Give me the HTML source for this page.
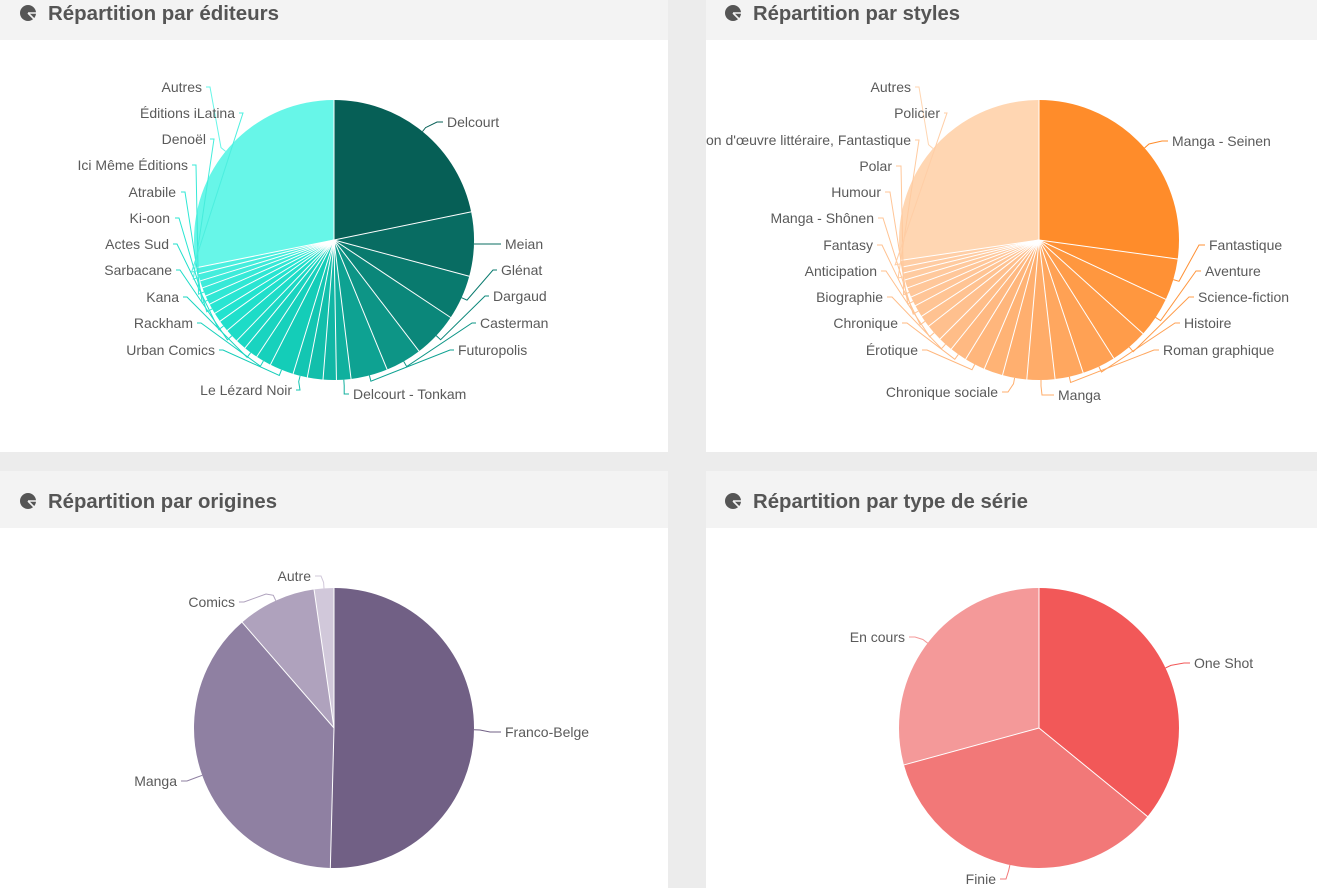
<!DOCTYPE html>
<html><head><meta charset="utf-8">
<style>
html,body{margin:0;padding:0;}
body{width:1317px;height:888px;background:#ececec;position:relative;overflow:hidden;font-family:"Liberation Sans",sans-serif;}
.p{position:absolute;background:#fff;}
.h{position:absolute;left:0;right:0;top:0;background:#f3f3f3;}
svg{position:absolute;left:0;top:0;}
</style></head>
<body>
<div class="p" style="left:0;top:0;width:668px;height:452px;"><div class="h" style="height:40px;"></div></div>
<div class="p" style="left:706px;top:0;width:611px;height:452px;"><div class="h" style="height:40px;"></div></div>
<div class="p" style="left:0;top:471px;width:668px;height:417px;"><div class="h" style="height:57px;"></div></div>
<div class="p" style="left:706px;top:471px;width:611px;height:417px;"><div class="h" style="height:57px;"></div></div>

<svg width="1317" height="888" viewBox="0 0 1317 888" xmlns="http://www.w3.org/2000/svg">
<defs>
<clipPath id="cr"><rect x="706" y="0" width="611" height="888"/></clipPath>
</defs>

<!-- icons -->
<g fill="#555">
<g transform="translate(28,13)"><circle r="8"/><path d="M0,0 L9,0 M0,0 L6.5,6.5" stroke="#f3f3f3" stroke-width="1.6"/></g>
<g transform="translate(733,13)"><circle r="8"/><path d="M0,0 L9,0 M0,0 L6.5,6.5" stroke="#f3f3f3" stroke-width="1.6"/></g>
<g transform="translate(28,501)"><circle r="8"/><path d="M0,0 L9,0 M0,0 L6.5,6.5" stroke="#f3f3f3" stroke-width="1.6"/></g>
<g transform="translate(733,501)"><circle r="8"/><path d="M0,0 L9,0 M0,0 L6.5,6.5" stroke="#f3f3f3" stroke-width="1.6"/></g>
</g>
<g font-family="Liberation Sans, sans-serif" font-weight="bold" font-size="20" fill="#555">
<text x="48" y="20" textLength="231" lengthAdjust="spacingAndGlyphs">Répartition par éditeurs</text>
<text x="753" y="20" textLength="207" lengthAdjust="spacingAndGlyphs">Répartition par styles</text>
<text x="48" y="508" textLength="229" lengthAdjust="spacingAndGlyphs">Répartition par origines</text>
<text x="753" y="508" textLength="275" lengthAdjust="spacingAndGlyphs">Répartition par type de série</text>
</g>

<!-- PIE 1 -->
<g transform="translate(334,240)" fill="none" stroke-width="140">
<circle r="70" pathLength="360" stroke="#065f56" stroke-dasharray="78.8 720" transform="rotate(-90)"/>
<circle r="70" pathLength="360" stroke="#086c62" stroke-dasharray="27 720" transform="rotate(-11.6)"/>
<circle r="70" pathLength="360" stroke="#097a6e" stroke-dasharray="19 720" transform="rotate(15)"/>
<circle r="70" pathLength="360" stroke="#0b877a" stroke-dasharray="19.4 720" transform="rotate(33.6)"/>
<circle r="70" pathLength="360" stroke="#0d9586" stroke-dasharray="15.5 720" transform="rotate(52.6)"/>
<circle r="70" pathLength="360" stroke="#0ea292" stroke-dasharray="15.7 720" transform="rotate(67.7)"/>
<circle r="70" pathLength="360" stroke="#10b09e" stroke-dasharray="6.4 720" transform="rotate(83)"/>
<circle r="70" pathLength="360" stroke="#11b7a5" stroke-dasharray="5.9 720" transform="rotate(89)"/>
<circle r="70" pathLength="360" stroke="#12bfab" stroke-dasharray="6.9 720" transform="rotate(94.5)"/>
<circle r="70" pathLength="360" stroke="#13c6b2" stroke-dasharray="6.4 720" transform="rotate(101)"/>
<circle r="70" pathLength="360" stroke="#14cdb8" stroke-dasharray="10.4 720" transform="rotate(107)"/>
<circle r="70" pathLength="360" stroke="#16d1bc" stroke-dasharray="6.9 720" transform="rotate(117)"/>
<circle r="70" pathLength="360" stroke="#19d4c0" stroke-dasharray="6.4 720" transform="rotate(123.5)"/>
<circle r="70" pathLength="360" stroke="#1bd8c4" stroke-dasharray="4.9 720" transform="rotate(129.5)"/>
<circle r="70" pathLength="360" stroke="#1ddcc7" stroke-dasharray="6.1 720" transform="rotate(134)"/>
<circle r="70" pathLength="360" stroke="#20dfcb" stroke-dasharray="5.2 720" transform="rotate(139.7)"/>
<circle r="70" pathLength="360" stroke="#22e3cf" stroke-dasharray="4.3 720" transform="rotate(144.5)"/>
<circle r="70" pathLength="360" stroke="#29e5d2" stroke-dasharray="4.7 720" transform="rotate(148.4)"/>
<circle r="70" pathLength="360" stroke="#30e7d4" stroke-dasharray="4.1 720" transform="rotate(152.7)"/>
<circle r="70" pathLength="360" stroke="#37e9d7" stroke-dasharray="4 720" transform="rotate(156.4)"/>
<circle r="70" pathLength="360" stroke="#3eebda" stroke-dasharray="3.4 720" transform="rotate(160)"/>
<circle r="70" pathLength="360" stroke="#45eddc" stroke-dasharray="3.4 720" transform="rotate(163)"/>
<circle r="70" pathLength="360" stroke="#4cefdf" stroke-dasharray="3 720" transform="rotate(166)"/>
<circle r="70" pathLength="360" stroke="#67f6e8" stroke-dasharray="101.4 720" transform="rotate(168.6)"/>
<g stroke="#fff" stroke-width="1">
<line x2="0" y2="-140.5" transform="rotate(0)"/>
<line x2="0" y2="-140.5" transform="rotate(78.4)"/>
<line x2="0" y2="-140.5" transform="rotate(105)"/>
<line x2="0" y2="-140.5" transform="rotate(123.6)"/>
<line x2="0" y2="-140.5" transform="rotate(142.6)"/>
<line x2="0" y2="-140.5" transform="rotate(157.7)"/>
<line x2="0" y2="-140.5" transform="rotate(173)"/>
<line x2="0" y2="-140.5" transform="rotate(179)"/>
<line x2="0" y2="-140.5" transform="rotate(184.5)"/>
<line x2="0" y2="-140.5" transform="rotate(191)"/>
<line x2="0" y2="-140.5" transform="rotate(197)"/>
<line x2="0" y2="-140.5" transform="rotate(207)"/>
<line x2="0" y2="-140.5" transform="rotate(213.5)"/>
<line x2="0" y2="-140.5" transform="rotate(219.5)"/>
<line x2="0" y2="-140.5" transform="rotate(224)"/>
<line x2="0" y2="-140.5" transform="rotate(229.7)"/>
<line x2="0" y2="-140.5" transform="rotate(234.5)"/>
<line x2="0" y2="-140.5" transform="rotate(238.4)"/>
<line x2="0" y2="-140.5" transform="rotate(242.7)"/>
<line x2="0" y2="-140.5" transform="rotate(246.4)"/>
<line x2="0" y2="-140.5" transform="rotate(250)"/>
<line x2="0" y2="-140.5" transform="rotate(253)"/>
<line x2="0" y2="-140.5" transform="rotate(256)"/>
<line x2="0" y2="-140.5" transform="rotate(258.6)"/>
</g>
</g>
<g fill="none" stroke-width="1">
<path stroke="#065f56" d="M443,122 L437,122 L425.6,127.6 L422.5,131.5"/>
<path stroke="#086c62" d="M501,244 L480,244 L474,244"/>
<path stroke="#097a6e" d="M497,270 L493,270 L467,300.1 L461.5,297.7"/>
<path stroke="#0b877a" d="M489,296 L485,296 L440.6,339.7 L436.2,335.6"/>
<path stroke="#0d9586" d="M476,323 L472,323 L406.7,366.6 L403.7,361.4"/>
<path stroke="#0ea292" d="M454,350 L450,350 L370.9,381.2 L369.4,375.4"/>
<path stroke="#10b09e" d="M349,394 L344.2,394 L344.2,385.7 L343.8,379.7"/>
<path stroke="#13c6b2" d="M296,390 L300,390 L298.7,381.6 L300.1,375.8"/>
<path stroke="#14cdb8" d="M219,350 L223,350 L279.3,375.4 L281.5,369.8"/>
<path stroke="#16d1bc" d="M197,323 L201,323 L260.4,366.2 L263.4,361"/>
<path stroke="#19d4c0" d="M183,297 L187,297 L247.1,357.4 L250.7,352.6"/>
<path stroke="#1ddcc7" d="M176,270 L180,270 L227.4,339.9 L231.8,335.8"/>
<path stroke="#20dfcb" d="M173,244 L177,244 L218.8,329.6 L223.5,326"/>
<path stroke="#29e5d2" d="M175,218 L179,218 L206.8,311.8 L212.1,308.9"/>
<path stroke="#30e7d4" d="M181,192 L185,192 L202.2,302.8 L207.6,300.2"/>
<path stroke="#37e9d7" d="M192,165 L196,165 L198.5,294.2 L204,292"/>
<path stroke="#45eddc" d="M210,139 L214,139 L193.3,279 L199,277.4"/>
<path stroke="#4cefdf" d="M239,113 L243,113 L191.6,272.1 L197.4,270.8"/>
<path stroke="#67f6e8" d="M206,87 L210,87 L221,147.6 L225.6,151.4"/>
</g>
<g font-family="Liberation Sans, sans-serif" font-size="14" fill="#5a5a5a">
<text x="447" y="127">Delcourt</text>
<text x="505" y="249">Meian</text>
<text x="501" y="275">Glénat</text>
<text x="493" y="301">Dargaud</text>
<text x="480" y="328">Casterman</text>
<text x="458" y="355">Futuropolis</text>
<text x="353" y="399">Delcourt - Tonkam</text>
<g text-anchor="end">
<text x="292" y="395">Le Lézard Noir</text>
<text x="215" y="355">Urban Comics</text>
<text x="193" y="328">Rackham</text>
<text x="179" y="302">Kana</text>
<text x="172" y="275">Sarbacane</text>
<text x="169" y="249">Actes Sud</text>
<text x="170" y="223">Ki-oon</text>
<text x="176" y="197">Atrabile</text>
<text x="188" y="170">Ici Même Éditions</text>
<text x="206" y="144">Denoël</text>
<text x="235" y="118">Éditions iLatina</text>
<text x="202" y="92">Autres</text>
</g>
</g>

<!-- PIE 2 -->
<g transform="translate(1039,240)" fill="none" stroke-width="140">
<circle r="70" pathLength="360" stroke="#ff8c2a" stroke-dasharray="98.2 720" transform="rotate(-90)"/>
<circle r="70" pathLength="360" stroke="#ff9135" stroke-dasharray="17.7 720" transform="rotate(7.8)"/>
<circle r="70" pathLength="360" stroke="#ff973f" stroke-dasharray="17.3 720" transform="rotate(25.1)"/>
<circle r="70" pathLength="360" stroke="#ff9c4a" stroke-dasharray="16.1 720" transform="rotate(42)"/>
<circle r="70" pathLength="360" stroke="#ffa154" stroke-dasharray="14.3 720" transform="rotate(57.7)"/>
<circle r="70" pathLength="360" stroke="#ffa75f" stroke-dasharray="12.2 720" transform="rotate(71.6)"/>
<circle r="70" pathLength="360" stroke="#ffac69" stroke-dasharray="12 720" transform="rotate(83.4)"/>
<circle r="70" pathLength="360" stroke="#ffaf6f" stroke-dasharray="10.5 720" transform="rotate(95)"/>
<circle r="70" pathLength="360" stroke="#ffb375" stroke-dasharray="8.3 720" transform="rotate(105.1)"/>
<circle r="70" pathLength="360" stroke="#ffb67c" stroke-dasharray="9 720" transform="rotate(113)"/>
<circle r="70" pathLength="360" stroke="#ffb982" stroke-dasharray="7.6 720" transform="rotate(121.6)"/>
<circle r="70" pathLength="360" stroke="#ffbd88" stroke-dasharray="6.6 720" transform="rotate(128.8)"/>
<circle r="70" pathLength="360" stroke="#ffc08e" stroke-dasharray="7.4 720" transform="rotate(135)"/>
<circle r="70" pathLength="360" stroke="#ffc291" stroke-dasharray="5.4 720" transform="rotate(142)"/>
<circle r="70" pathLength="360" stroke="#ffc494" stroke-dasharray="5.4 720" transform="rotate(147)"/>
<circle r="70" pathLength="360" stroke="#ffc597" stroke-dasharray="4.4 720" transform="rotate(152)"/>
<circle r="70" pathLength="360" stroke="#ffc79a" stroke-dasharray="4.4 720" transform="rotate(156)"/>
<circle r="70" pathLength="360" stroke="#ffc99d" stroke-dasharray="3.8 720" transform="rotate(160)"/>
<circle r="70" pathLength="360" stroke="#ffcba0" stroke-dasharray="3.3 720" transform="rotate(163.4)"/>
<circle r="70" pathLength="360" stroke="#ffcca3" stroke-dasharray="2.9 720" transform="rotate(166.3)"/>
<circle r="70" pathLength="360" stroke="#ffcea6" stroke-dasharray="3.2 720" transform="rotate(168.8)"/>
<circle r="70" pathLength="360" stroke="#ffd6b2" stroke-dasharray="98.4 720" transform="rotate(171.6)"/>
<g stroke="#fff" stroke-width="1">
<line x2="0" y2="-140.5" transform="rotate(0)"/>
<line x2="0" y2="-140.5" transform="rotate(97.8)"/>
<line x2="0" y2="-140.5" transform="rotate(115.1)"/>
<line x2="0" y2="-140.5" transform="rotate(132)"/>
<line x2="0" y2="-140.5" transform="rotate(147.7)"/>
<line x2="0" y2="-140.5" transform="rotate(161.6)"/>
<line x2="0" y2="-140.5" transform="rotate(173.4)"/>
<line x2="0" y2="-140.5" transform="rotate(185)"/>
<line x2="0" y2="-140.5" transform="rotate(195.1)"/>
<line x2="0" y2="-140.5" transform="rotate(203)"/>
<line x2="0" y2="-140.5" transform="rotate(211.6)"/>
<line x2="0" y2="-140.5" transform="rotate(218.8)"/>
<line x2="0" y2="-140.5" transform="rotate(225)"/>
<line x2="0" y2="-140.5" transform="rotate(232)"/>
<line x2="0" y2="-140.5" transform="rotate(237)"/>
<line x2="0" y2="-140.5" transform="rotate(242)"/>
<line x2="0" y2="-140.5" transform="rotate(246)"/>
<line x2="0" y2="-140.5" transform="rotate(250)"/>
<line x2="0" y2="-140.5" transform="rotate(253.4)"/>
<line x2="0" y2="-140.5" transform="rotate(256.3)"/>
<line x2="0" y2="-140.5" transform="rotate(258.8)"/>
<line x2="0" y2="-140.5" transform="rotate(261.6)"/>
</g>
</g>
<g fill="none" stroke-width="1" clip-path="url(#cr)">
<path stroke="#ff8c2a" d="M1168,141 L1162,141 L1149,144 L1144.5,148"/>
<path stroke="#ff9135" d="M1205,245 L1199,245 L1179,281.3 L1173.3,279.6"/>
<path stroke="#ff973f" d="M1201,271 L1196,271 L1160.6,320.7 L1155.6,317.4"/>
<path stroke="#ff9c4a" d="M1194,297 L1189,297 L1133.2,351.7 L1129.3,347.1"/>
<path stroke="#ffa154" d="M1180,323 L1175,323 L1101.5,372 L1098.9,366.6"/>
<path stroke="#ffa75f" d="M1159,350 L1154,350 L1070.6,382.5 L1069.3,376.6"/>
<path stroke="#ffac69" d="M1054,395 L1042,395 L1041,386 L1041,380"/>
<path stroke="#ffaf6f" d="M1002,392 L1008,392 L1013.5,383.8 L1014.6,377.9"/>
<path stroke="#ffb67c" d="M922,350 L927,350 L972,369.7 L974.8,364.4"/>
<path stroke="#ffb982" d="M902,323 L907,323 L954.8,359.3 L958.3,354.4"/>
<path stroke="#ffbd88" d="M887,297 L892,297 L941.5,348.7 L945.5,344.2"/>
<path stroke="#ffc08e" d="M881,271 L886,271 L929.6,336.7 L934.1,332.8"/>
<path stroke="#ffc291" d="M877,245 L882,245 L920.2,324.8 L925,321.3"/>
<path stroke="#ffc494" d="M878,218 L883,218 L913.2,314.1 L918.4,311"/>
<path stroke="#ffc597" d="M885,192 L890,192 L907.8,304 L913.2,301.4"/>
<path stroke="#ffc79a" d="M896,166 L901,166 L903.6,294.7 L909.2,292.4"/>
<path stroke="#ffcba0" d="M915,140 L919,140 L898.1,278.1 L903.9,276.6"/>
<path stroke="#ffcea6" d="M944,113 L947,113 L895.1,264.9 L901,263.8"/>
<path stroke="#ffd6b2" d="M915,87 L919,87 L928.5,144.6 L933,148.5"/>
</g>
<g font-family="Liberation Sans, sans-serif" font-size="14" fill="#5a5a5a" clip-path="url(#cr)">
<text x="1172" y="146">Manga - Seinen</text>
<text x="1209" y="250">Fantastique</text>
<text x="1205" y="276">Aventure</text>
<text x="1198" y="302">Science-fiction</text>
<text x="1184" y="328">Histoire</text>
<text x="1163" y="355">Roman graphique</text>
<text x="1058" y="400">Manga</text>
<g text-anchor="end">
<text x="998" y="397">Chronique sociale</text>
<text x="918" y="355">Érotique</text>
<text x="898" y="328">Chronique</text>
<text x="883" y="302">Biographie</text>
<text x="877" y="276">Anticipation</text>
<text x="873" y="250">Fantasy</text>
<text x="874" y="223">Manga - Shônen</text>
<text x="881" y="197">Humour</text>
<text x="892" y="171">Polar</text>
<text x="911" y="145">Adaptation d'œuvre littéraire, Fantastique</text>
<text x="940" y="118">Policier</text>
<text x="911" y="92">Autres</text>
</g>
</g>

<!-- PIE 3 -->
<g transform="translate(334,728)" fill="none" stroke-width="140">
<circle r="70" pathLength="360" stroke="#716085" stroke-dasharray="181.9 720" transform="rotate(-90)"/>
<circle r="70" pathLength="360" stroke="#8f80a2" stroke-dasharray="137.9 720" transform="rotate(91.5)"/>
<circle r="70" pathLength="360" stroke="#afa2bd" stroke-dasharray="33.2 720" transform="rotate(229)"/>
<circle r="70" pathLength="360" stroke="#d1c8da" stroke-dasharray="8.2 720" transform="rotate(261.8)"/>
<g stroke="#fff" stroke-width="1">
<line x2="0" y2="-140.5" transform="rotate(0)"/>
<line x2="0" y2="-140.5" transform="rotate(181.5)"/>
<line x2="0" y2="-140.5" transform="rotate(319)"/>
<line x2="0" y2="-140.5" transform="rotate(351.8)"/>
</g>
</g>
<g fill="none" stroke-width="1">
<path stroke="#716085" d="M501,732 L490,732 L480,730 L474,729.8"/>
<path stroke="#8f80a2" d="M181,781 L187,781 L196.6,777.4 L202.3,775.3"/>
<path stroke="#afa2bd" d="M239,602 L244,602 L266,594 L273.3,595.3 L275.8,600.7"/>
<path stroke="#d1c8da" d="M315,576 L321,576 L323.6,582.4 L324,588.4"/>
</g>
<g font-family="Liberation Sans, sans-serif" font-size="14" fill="#5a5a5a">
<text x="505" y="737">Franco-Belge</text>
<g text-anchor="end">
<text x="177" y="786">Manga</text>
<text x="235" y="607">Comics</text>
<text x="311" y="581">Autre</text>
</g>
</g>

<!-- PIE 4 -->
<g transform="translate(1039,728)" fill="none" stroke-width="140">
<circle r="70" pathLength="360" stroke="#f25858" stroke-dasharray="129.6 720" transform="rotate(-90)"/>
<circle r="70" pathLength="360" stroke="#f27878" stroke-dasharray="125.9 720" transform="rotate(39.2)"/>
<circle r="70" pathLength="360" stroke="#f49999" stroke-dasharray="105.3 720" transform="rotate(164.7)"/>
<g stroke="#fff" stroke-width="1">
<line x2="0" y2="-140.5" transform="rotate(0)"/>
<line x2="0" y2="-140.5" transform="rotate(129.2)"/>
<line x2="0" y2="-140.5" transform="rotate(254.7)"/>
</g>
</g>
<g fill="none" stroke-width="1">
<path stroke="#f25858" d="M1190,663 L1184,663 L1170.9,665.4 L1165.4,668"/>
<path stroke="#f27878" d="M1000,879 L1006,879 L1008.6,870.8 L1009.9,865"/>
<path stroke="#f49999" d="M909,637 L915,637 L922.9,639.5 L927.7,643.2"/>
</g>
<g font-family="Liberation Sans, sans-serif" font-size="14" fill="#5a5a5a">
<text x="1194" y="668">One Shot</text>
<g text-anchor="end">
<text x="996" y="884">Finie</text>
<text x="905" y="642">En cours</text>
</g>
</g>
</svg>
</body></html>
